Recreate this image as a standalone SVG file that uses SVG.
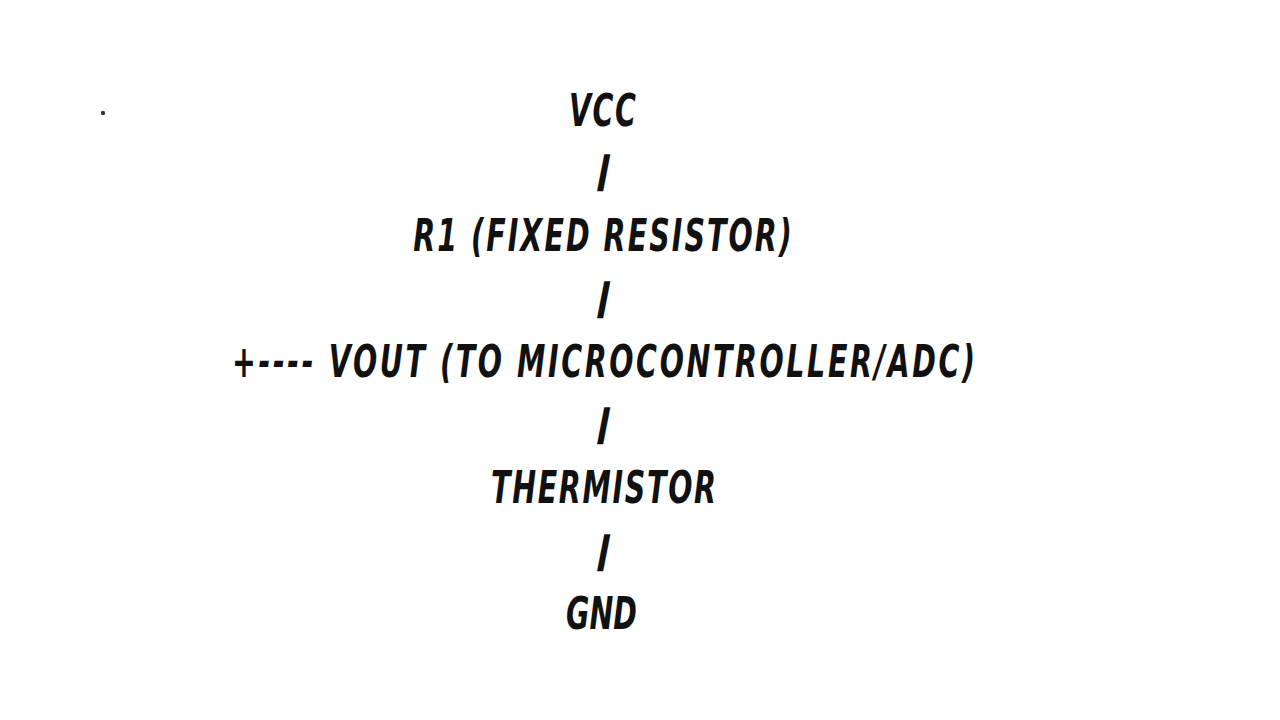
<svg xmlns="http://www.w3.org/2000/svg" width="1280" height="720" viewBox="0 0 1280 720">
<style>
.t{font-family:"DejaVu Sans Condensed","DejaVu Sans",sans-serif;font-stretch:condensed;font-weight:bold;font-style:italic;font-size:44px;fill:#111;text-anchor:middle}
.b{font-family:"DejaVu Sans",sans-serif;font-weight:bold;font-size:35px;fill:#111;stroke:#111;stroke-width:2.2;text-anchor:middle}
</style>
<rect width="1280" height="720" fill="#fff"/>
<circle cx="103" cy="113" r="2.2" fill="#333"/>
<g id="connectors">
<text class="b" transform="translate(602,181.5) skewX(-11)">|</text>
<text class="b" transform="translate(602,309) skewX(-11)">|</text>
<text class="b" transform="translate(602,434.5) skewX(-11)">|</text>
<text class="b" transform="translate(602,561.5) skewX(-11)">|</text>
</g>
<g id="vcc" transform="translate(602.5,126) scale(0.72,1)"><text class="t" x="0" y="0" textLength="93" lengthAdjust="spacing">VCC</text></g>
<g id="r1" transform="translate(602.5,251) scale(0.72,1)"><text class="t" x="0" y="0" textLength="526" lengthAdjust="spacing">R1 (FIXED RESISTOR)</text></g>
<g id="vout" transform="translate(603.5,377) scale(0.72,1)"><text class="t" x="0" y="0" textLength="1032" lengthAdjust="spacing">+---- VOUT (TO MICROCONTROLLER/ADC)</text></g>
<g id="thermistor" transform="translate(603.5,503) scale(0.72,1)"><text class="t" x="0" y="0" textLength="312.5" lengthAdjust="spacing">THERMISTOR</text></g>
<g id="gnd" transform="translate(601.5,629) scale(0.72,1)"><text class="t" x="0" y="0" textLength="98.6" lengthAdjust="spacing">GND</text></g>
</svg>
